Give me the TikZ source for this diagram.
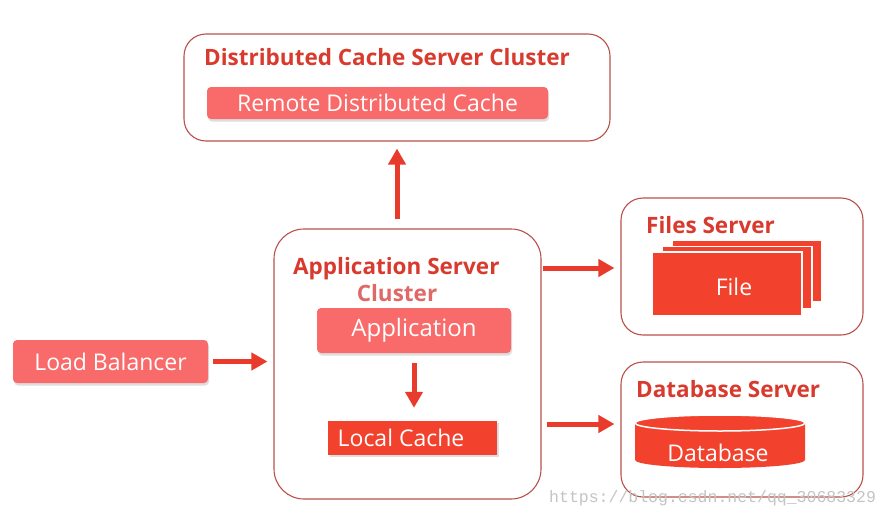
\documentclass[tikz,border=0pt]{standalone}
\usepackage{fontspec}
\setmainfont{Open Sans}
\setmonofont{Liberation Mono}
\usetikzlibrary{arrows.meta,calc}
\definecolor{titlered}{HTML}{D93A2E}
\definecolor{lightred}{HTML}{F96A6A}
\definecolor{deepred}{HTML}{F2412C}
\definecolor{framered}{HTML}{B9504A}
\definecolor{arrowred}{HTML}{E93B2B}
\definecolor{clusterpink}{HTML}{E06868}
\definecolor{wmgrey}{HTML}{C4C4C4}
\begin{document}
\begin{tikzpicture}[x=1pt,y=-1pt,
  frame/.style={draw=framered,line width=1.1pt,rounded corners=22pt,fill=white,inner sep=0pt},
  title/.style={text=titlered,font=\bfseries\fontsize{22.5}{26}\selectfont,inner sep=0pt,anchor=base west},
  boxtext/.style={text=white,font=\fontsize{23}{26}\selectfont,inner sep=0pt},
  softbox/.style={boxtext,fill=lightred,rounded corners=4pt,
    preaction={fill=black!13,transform canvas={xshift=1pt,yshift=-2.5pt}}},
  hardbox/.style={boxtext,fill=deepred,
    preaction={fill=black!13,transform canvas={xshift=1.5pt,yshift=-2pt}}},
  bigarrow/.style={draw=arrowred,line width=5pt,-{Triangle[width=17pt,length=16pt]}},
  sheet/.style={fill=deepred,draw=white,line width=1.5pt}
]
\useasboundingbox (0,0) rectangle (888,519);
\fill[white] (0,0) rectangle (888,519);

% Distributed cache cluster
\node[frame,minimum width=426pt,minimum height=107pt] (dcache) at (397,87.5) {};
\node[title] (dctitle) at (204,66) {Distributed Cache Server Cluster};
\node[softbox,minimum width=341pt,minimum height=32pt] (remote) at (377.5,103) {Remote Distributed Cache};

% Application server cluster
\node[frame,rounded corners=30pt,minimum width=267pt,minimum height=270pt] (app) at (407.5,364) {};
\node[title] (apptitle) at (293,274) {Application Server};
\node[title,text=clusterpink,anchor=base] (cluster) at (397,301) {Cluster};
\node[softbox,font=\fontsize{24}{27}\selectfont,minimum width=194pt,minimum height=45pt] (application) at (414,330.5) {Application};
\node[hardbox,minimum width=169pt,minimum height=34pt] (local) at (412.5,438) {};
\node[boxtext] (localtext) at (401,438) {Local Cache};

% Load balancer
\node[softbox,minimum width=195pt,minimum height=43pt] (lb) at (110.5,361.5) {Load Balancer};

% Files server
\node[frame,minimum width=242pt,minimum height=137pt] (files) at (742,266.5) {};
\node[title] (ftitle) at (646,233) {Files Server};
\draw[sheet] (672,240) rectangle (822,302);
\draw[sheet] (662,246.5) rectangle (812,308.5);
\node[sheet,minimum width=150pt,minimum height=63.5pt] (file) at (727,283.5) {};
\node[boxtext] (filetext) at (734,287) {File};

% Database server
\node[frame,minimum width=242pt,minimum height=135pt] (db) at (742,429.5) {};
\node[title] (dbtitle) at (636,397.5) {Database Server};
\fill[deepred] (635,423) -- (635,460) arc[start angle=180,end angle=360,x radius=85pt,y radius=8pt] -- (805,423) -- cycle;
\draw[fill=deepred,draw=white,line width=1.5pt] (720,423) ellipse[x radius=85pt,y radius=8pt];
\node[boxtext] (dbtext) at (718,453) {Database};

% Connectors
\draw[bigarrow] ([yshift=9pt]app.north -| dcache.south) -- ([yshift=-7pt]dcache.south);
\draw[bigarrow] ([xshift=5pt]lb.east) -- ([xshift=-6pt]lb.east -| app.west);
\draw[bigarrow] ([yshift=-10pt]application.south) -- ([yshift=13pt]local.north -| application.south);
\coordinate (fa) at (543,268);
\coordinate (da) at (547,424);
\draw[bigarrow] (fa) -- ([xshift=-6pt]fa -| files.west);
\draw[bigarrow] (da) -- ([xshift=-6pt]da -| db.west);

% Watermark
\node[text=wmgrey,font=\ttfamily\fontsize{16.5}{18}\selectfont,inner sep=0pt,anchor=base west] (wm) at (549,502) {https://blog.csdn.net/qq\_30683329};
\end{tikzpicture}
\end{document}
